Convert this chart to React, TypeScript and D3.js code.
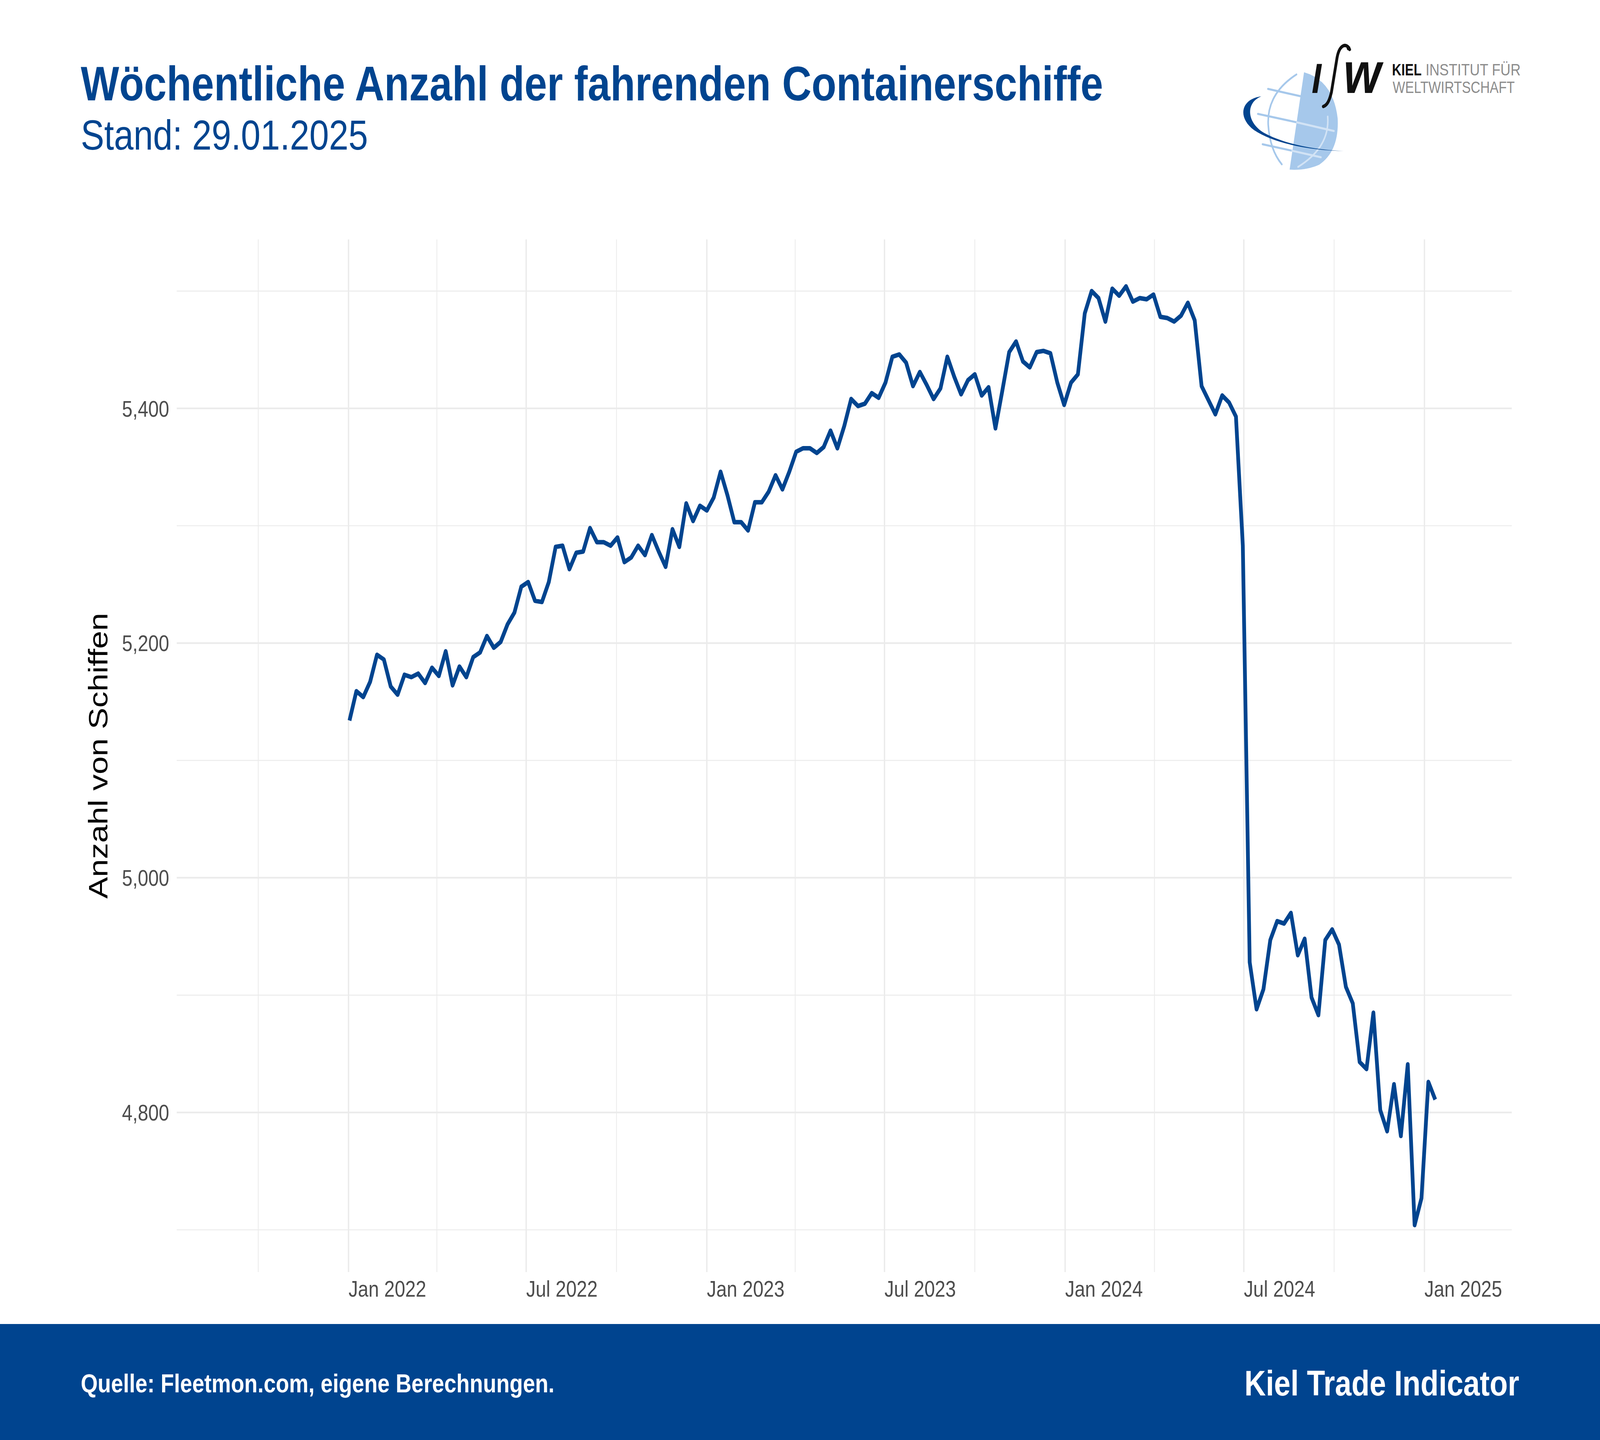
import React from "react";
import * as d3 from "d3";

const TITLE = "Wöchentliche Anzahl der fahrenden Containerschiffe";
const SUBTITLE = "Stand: 29.01.2025";
const Y_LABEL = "Anzahl von Schiffen";
const SOURCE = "Quelle: Fleetmon.com, eigene Berechnungen.";
const BRAND = "Kiel Trade Indicator";

const FIRST_WEEK = "2022-01-02";
const shipCounts = [
  5134, 5159, 5154, 5167, 5190, 5186, 5163, 5156, 5173, 5171,
  5174, 5166, 5179, 5172, 5193, 5164, 5180, 5171, 5188, 5192,
  5206, 5196, 5201, 5216, 5226, 5248, 5252, 5236, 5235, 5252,
  5282, 5283, 5263, 5277, 5278, 5298, 5286, 5286, 5283, 5290,
  5269, 5273, 5283, 5275, 5292, 5278, 5265, 5297, 5282, 5319,
  5304, 5317, 5313, 5324, 5346, 5326, 5303, 5303, 5296, 5320,
  5320, 5329, 5343, 5331, 5346, 5363, 5366, 5366, 5362, 5367,
  5381, 5366, 5385, 5408, 5402, 5404, 5413, 5409, 5422, 5444,
  5446, 5439, 5419, 5431, 5420, 5408, 5417, 5444, 5427, 5412,
  5424, 5429, 5411, 5418, 5383, 5415, 5448, 5457, 5440, 5435,
  5448, 5449, 5447, 5422, 5403, 5422, 5429, 5481, 5500, 5494,
  5474, 5502, 5496, 5504, 5491, 5494, 5493, 5497, 5478, 5477,
  5474, 5479, 5490, 5475, 5419, 5407, 5395, 5411, 5405, 5393,
  5283, 4928, 4888, 4905, 4947, 4963, 4961, 4970, 4934, 4948,
  4898, 4883, 4947, 4956, 4943, 4907, 4893, 4843, 4837, 4885,
  4802, 4784, 4824, 4780, 4841, 4704, 4727, 4826, 4811,
];

const yTicks = [4800, 5000, 5200, 5400];
const yMinorTicks = [4700, 4900, 5100, 5300, 5500];
const xTicks = ["2022-01-01", "2022-07-01", "2023-01-01", "2023-07-01", "2024-01-01", "2024-07-01", "2025-01-01"];
const xMinorTicks = ["2021-10-01", "2022-04-01", "2022-10-01", "2023-04-01", "2023-10-01", "2024-04-01", "2024-10-01"];
const xLimits = ["2021-07-10", "2025-03-31"];

const W = 4916;
const H = 3687;
const BLUE = "#00448F";
const GRID = "#EBEBEB";
const FONT = "'Liberation Sans', Arial, Helvetica, sans-serif";

const parse = d3.utcParse("%Y-%m-%d");

export default function App() {
  const panel = { left: 543, right: 4645, top: 613, bottom: 3257 };

  const start = parse(FIRST_WEEK) as Date;
  const data = shipCounts.map((v, i) => ({ date: d3.utcDay.offset(start, i * 7), value: v }));

  const x = d3
    .scaleUtc()
    .domain(xLimits.map((s) => parse(s) as Date))
    .range([panel.left, panel.right]);

  const [mn, mx] = d3.extent(shipCounts) as [number, number];
  const pad = (mx - mn) * 0.05;
  const y = d3.scaleLinear().domain([mn - pad, mx + pad]).range([panel.bottom, panel.top]);

  const line = d3
    .line<{ date: Date; value: number }>()
    .x((d) => x(d.date))
    .y((d) => y(d.value));

  const fmtX = d3.utcFormat("%b %Y");
  const fmtY = d3.format(",");

  return (
    <svg
      viewBox={`0 0 ${W} ${H}`}
      preserveAspectRatio="none"
      style={{ position: "fixed", left: 0, top: 0, width: "100vw", height: "100vh", display: "block", background: "#fff" }}
      fontFamily={FONT}
    >
      <rect x={0} y={0} width={W} height={H} fill="#ffffff" />

      {/* Title */}
      <text x={248} y={257} fontSize={125} fontWeight="bold" fill={BLUE}>
        {TITLE}
      </text>
      <text x={248} y={383} fontSize={108} fill={BLUE}>
        {SUBTITLE}
      </text>

      {/* Logo */}
      <g transform="translate(3800,100) scale(0.33333)">
        <path d="M 620 255 Q 890 320 930 610 Q 945 860 760 965 Q 640 1010 487 1003 Z" fill="#A6C8EB" />
        <path d="M 550 272 Q 275 420 290 660 Q 305 850 415 962" fill="none" stroke="#A6C8EB" strokeWidth={15} strokeLinecap="round" />
        <path d="M 288 383 L 592 440" stroke="#A6C8EB" strokeWidth={16} strokeLinecap="round" />
        <path d="M 195 575 L 555 640" stroke="#A6C8EB" strokeWidth={16} strokeLinecap="round" />
        <path d="M 555 640 L 895 706" stroke="#D2E3F5" strokeWidth={16} strokeLinecap="round" />
        <path d="M 238 808 L 510 858" stroke="#A6C8EB" strokeWidth={16} strokeLinecap="round" />
        <path d="M 510 858 L 775 908" stroke="#D2E3F5" strokeWidth={16} strokeLinecap="round" />
        <path d="M 838 595 Q 860 830 565 982" fill="none" stroke="#D2E3F5" strokeWidth={14} strokeLinecap="round" />
        <path
          d="M 225 440 C 40 460, 0 600, 160 700 C 360 810, 700 855, 985 860 C 700 850, 420 800, 250 720 C 90 640, 80 490, 225 440 Z"
          fill={BLUE}
        />
        <path
          d="M 1040 80 C 1015 30, 950 35, 925 140 L 872 410 C 852 480, 830 508, 798 518"
          fill="none"
          stroke="#111"
          strokeWidth={26}
          strokeLinecap="round"
        />
        <circle cx={1030} cy={70} r={17} fill="#111" />
      </g>
      <text x={4030} y={238} fontSize={108} fontWeight="bold" fontStyle="italic" fill="#111">
        I
      </text>
      <text x={4128} y={238} fontSize={148} fontWeight="bold" fontStyle="italic" fill="#111">
        w
      </text>
      <text x={4277} y={193} fontSize={43} fontWeight="bold" fill="#111" textLength={91} lengthAdjust="spacingAndGlyphs">
        KIEL
      </text>
      <text x={4380} y={193} fontSize={43} fill="#8C8C8C" textLength={292} lengthAdjust="spacingAndGlyphs">
        INSTITUT FÜR
      </text>
      <text x={4279} y={238} fontSize={43} fill="#8C8C8C" textLength={375} lengthAdjust="spacingAndGlyphs">
        WELTWIRTSCHAFT
      </text>

      {/* Grid */}
      <g>
        {yMinorTicks.map((t) => (
          <line key={"ym" + t} x1={panel.left} x2={panel.right} y1={y(t)} y2={y(t)} stroke={GRID} strokeWidth={2.4} />
        ))}
        {xMinorTicks.map((t) => {
          const xx = x(parse(t) as Date);
          return <line key={"xm" + t} x1={xx} x2={xx} y1={panel.top} y2={panel.bottom} stroke={GRID} strokeWidth={2.4} />;
        })}
        {yTicks.map((t) => (
          <line key={"y" + t} x1={panel.left} x2={panel.right} y1={y(t)} y2={y(t)} stroke={GRID} strokeWidth={4.2} />
        ))}
        {xTicks.map((t) => {
          const xx = x(parse(t) as Date);
          return <line key={"x" + t} x1={xx} x2={xx} y1={panel.top} y2={panel.bottom} stroke={GRID} strokeWidth={4.2} />;
        })}
      </g>

      {/* Axis labels */}
      <g fontSize={58} fill="#4D4D4D">
        {yTicks.map((t) => (
          <text key={"yl" + t} x={520} y={y(t)} dy="0.36em" textAnchor="end">
            {fmtY(t)}
          </text>
        ))}
        {xTicks.map((t) => {
          const d = parse(t) as Date;
          return (
            <text key={"xl" + t} x={x(d)} y={3320}>
              {fmtX(d)}
            </text>
          );
        })}
      </g>
      <text transform="translate(330,1935) rotate(-90)" textAnchor="middle" fontSize={83} fill="#000">
        {Y_LABEL}
      </text>

      {/* Line */}
      <path d={line(data) || ""} fill="none" stroke={BLUE} strokeWidth={11.5} strokeLinejoin="round" strokeLinecap="butt" />

      {/* Footer */}
      <rect x={0} y={3390} width={W} height={H - 3390} fill={BLUE} />
      <text x={248} y={3565} fontSize={67} fontWeight="bold" fill="#fff">
        {SOURCE}
      </text>
      <text x={4668} y={3573} fontSize={91} fontWeight="bold" fill="#fff" textAnchor="end">
        {BRAND}
      </text>
    </svg>
  );
}
